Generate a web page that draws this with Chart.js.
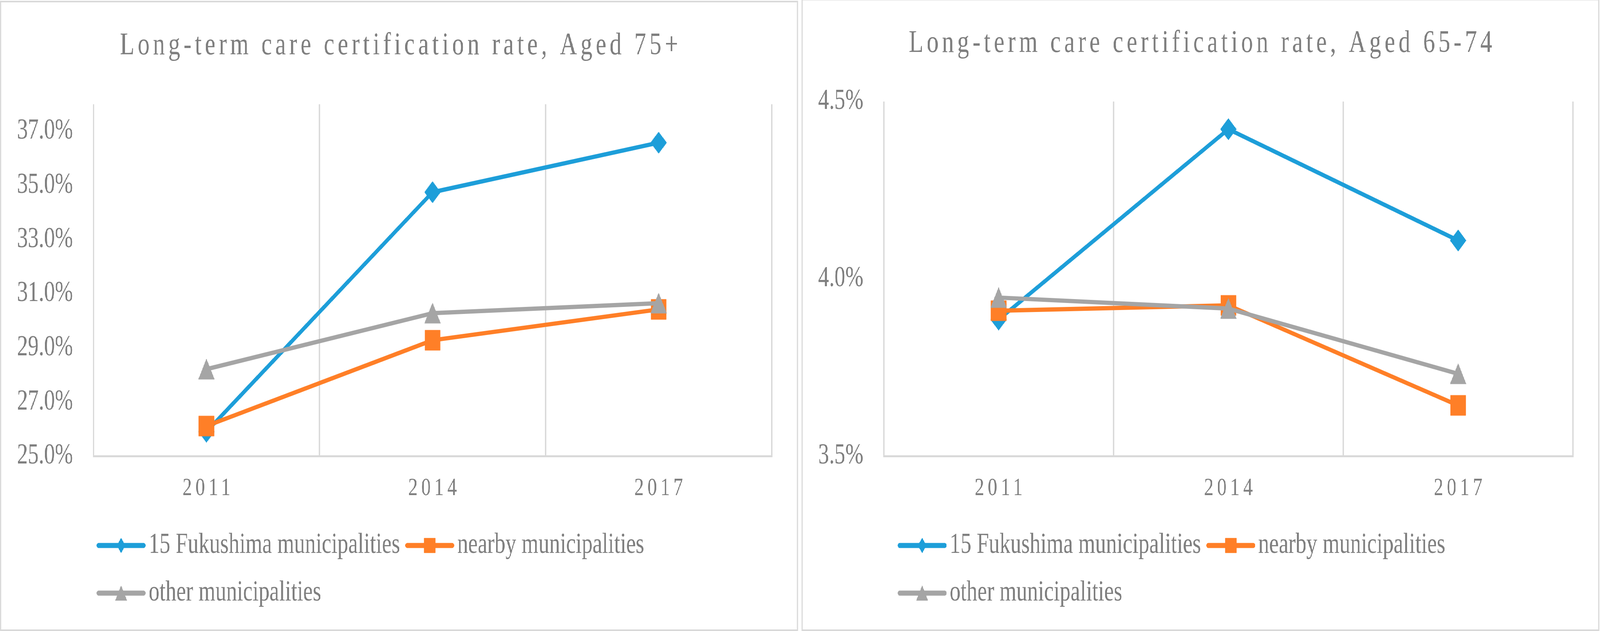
<!DOCTYPE html>
<html>
<head>
<meta charset="utf-8">
<script src="https://cdn.jsdelivr.net/npm/chart.js@4.4.0/dist/chart.umd.min.js"></script>
<style>
html,body{margin:0;padding:0;background:#fff;overflow:hidden;}
#page{position:absolute;left:0;top:0;width:5397px;height:1616px;transform-origin:0 0;background:#fff;}
.box{position:absolute;box-sizing:border-box;border:4px solid #d9d9d9;background:#fff;}
#boxA{left:0;top:2px;width:2692px;height:1614px;}
#boxB{left:2704px;top:-3px;width:2691px;height:1619px;}
#wrapA{position:relative;width:2684px;height:1606px;}
#wrapB{position:relative;width:2683px;height:1611px;}
canvas{display:block;}
</style>
</head>
<body>
<div id="page">
<div class="box" id="boxA"><div id="wrapA"><canvas id="c1"></canvas></div></div>
<div class="box" id="boxB"><div id="wrapB"><canvas id="c2"></canvas></div></div>
</div>
<script>
// ---------- data ----------
const categories = ['2011', '2014', '2017'];
const seriesNames = ['15 Fukushima municipalities', 'nearby municipalities', 'other municipalities'];

const title75 = 'Long-term care certification rate, Aged 75+';
const fukushima75 = [25.9, 34.75, 36.58];
const nearby75 = [26.11, 29.28, 30.42];
const other75 = [28.21, 30.28, 30.65];
const yTicks75 = [25, 27, 29, 31, 33, 35, 37];
const yRange75 = [25, 38];

const title6574 = 'Long-term care certification rate, Aged 65-74';
const fukushima6574 = [3.885, 4.422, 4.108];
const nearby6574 = [3.910, 3.925, 3.643];
const other6574 = [3.947, 3.916, 3.732];
const yTicks6574 = [3.5, 4.0, 4.5];
const yRange6574 = [3.5, 4.5];

// ---------- fit the 5397x1616 design into the actual window ----------
(function fitPage() {
  const sx = (window.innerWidth || 5397) / 5397;
  const sy = (window.innerHeight || 1616) / 1616;
  document.getElementById('page').style.transform = 'scale(' + sx + ',' + sy + ')';
})();

// ---------- styles ----------
const FONT = "'Liberation Serif', serif";
const TEXT = '#7f7f7f';
const GRID = '#d9d9d9';
const colors = ['#1d9ed9', '#ff7f27', '#a5a5a5'];
const shapes = ['diamond', 'square', 'triangle'];

function makeCanvas(w, h) { const c = document.createElement('canvas'); c.width = w; c.height = h; return c; }
function drawShape(ctx, shape, cx, cy, w, h, color) {
  ctx.fillStyle = color; ctx.strokeStyle = color; ctx.lineJoin = 'round'; ctx.lineWidth = 1.5;
  ctx.beginPath();
  if (shape === 'diamond') {
    ctx.moveTo(cx, cy - h / 2); ctx.lineTo(cx + w / 2, cy); ctx.lineTo(cx, cy + h / 2); ctx.lineTo(cx - w / 2, cy);
  } else if (shape === 'square') {
    ctx.rect(cx - w / 2, cy - h / 2, w, h);
  } else {
    ctx.moveTo(cx, cy - h / 2); ctx.lineTo(cx + w / 2, cy + h / 2); ctx.lineTo(cx - w / 2, cy + h / 2);
  }
  ctx.closePath(); ctx.fill(); ctx.stroke();
}
function markerImage(shape, w, h, color) {
  const c = makeCanvas(w + 4, h + 4);
  drawShape(c.getContext('2d'), shape, (w + 4) / 2, (h + 4) / 2, w, h, color);
  return c;
}
function legendIcon(shape, w, h, color) {
  const c = makeCanvas(170, 44);
  const x = c.getContext('2d');
  x.strokeStyle = color; x.lineWidth = 13; x.lineCap = 'round';
  x.beginPath(); x.moveTo(6.5, 22); x.lineTo(158.5, 22); x.stroke();
  drawShape(x, shape, 82.5, 22, w, h, color);
  return c;
}
const markerSizes = [[53, 54], [51, 51], [53, 51]];
const legendSizes = [[27, 37], [37, 37], [38, 37]];
const markers = shapes.map((s, i) => markerImage(s, markerSizes[i][0], markerSizes[i][1], colors[i]));
const icons = shapes.map((s, i) => legendIcon(s, legendSizes[i][0], legendSizes[i][1], colors[i]));

// letter spacing for title (80px) and category labels (64px)
function installSpacing(ctx) {
  const orig = CanvasRenderingContext2D.prototype.fillText;
  ctx.fillText = function (text, x, y, maxWidth) {
    const f = this.font;
    let s = 0;
    if (/\b80px/.test(f)) s = 11.5;
    else if (/\b64px/.test(f)) s = 12;
    if ('letterSpacing' in this) {
      this.letterSpacing = s + 'px';
      if (s && this.textAlign === 'center') x += s / 2;
    }
    return maxWidth === undefined ? orig.call(this, text, x, y) : orig.call(this, text, x, y, maxWidth);
  };
}

const placeBlocks = {
  id: 'placeBlocks',
  afterLayout(chart, args, opts) {
    const t = chart.titleBlock;
    if (t) { t.left = 0; t.right = chart.width; t.width = chart.width; }
    const l = chart.legend;
    if (l && opts.legendLeft !== undefined) { l.left = opts.legendLeft; }
  }
};

function makeDatasets(values) {
  return values.map((v, i) => ({
    label: seriesNames[i],
    data: v,
    borderColor: colors[i],
    backgroundColor: colors[i],
    borderWidth: 11,
    borderJoinStyle: 'round',
    borderCapStyle: 'round',
    tension: 0,
    pointStyle: markers[i],
    pointRadius: 27,
    pointHoverRadius: 27,
    order: 2 - i,
    clip: false
  }));
}

function makeOptions(cfg) {
  return {
    responsive: true,
    maintainAspectRatio: false,
    animation: false,
    events: [],
    layout: { padding: { left: 0, top: 0, right: 85, bottom: 46.5 } },
    plugins: {
      title: {
        display: true, text: cfg.title, color: TEXT,
        font: { family: FONT, size: 80, weight: 'normal', lineHeight: 1.2 },
        padding: { top: cfg.titleTop, bottom: cfg.titleBottom }
      },
      legend: {
        position: 'bottom', align: 'start',
        labels: {
          usePointStyle: true, pointStyleWidth: 108, padding: 49, color: TEXT,
          font: { family: FONT, size: 73 },
          generateLabels: (chart) => chart.data.datasets.map((ds, i) => ({
            text: ds.label, fillStyle: ds.borderColor, strokeStyle: ds.borderColor,
            lineWidth: 0, hidden: false, datasetIndex: i, pointStyle: icons[i], fontColor: TEXT
          }))
        }
      },
      tooltip: { enabled: false },
      placeBlocks: { legendLeft: cfg.legendLeft }
    },
    scales: {
      x: {
        type: 'category', offset: true,
        grid: { display: true, offset: true, color: GRID, lineWidth: 4.5, drawTicks: false },
        border: { display: true, color: GRID, width: 5 },
        ticks: { color: TEXT, font: { family: FONT, size: 64 }, padding: 45, maxRotation: 0 },
        afterFit: (s) => { s.height = 143.5; }
      },
      y: {
        min: cfg.range[0], max: cfg.range[1],
        grid: { display: false, drawTicks: false },
        border: { display: false },
        ticks: { color: TEXT, font: { family: FONT, size: 73 }, padding: 69, callback: (v) => Number(v).toFixed(1) + '%' },
        afterBuildTicks: (a) => { a.ticks = cfg.ticks.map((v) => ({ value: v })); },
        afterFit: (s) => { s.width = cfg.yWidth; }
      }
    }
  };
}

const c1 = document.getElementById('c1');
installSpacing(c1.getContext('2d'));
new Chart(c1, {
  type: 'line',
  data: { labels: categories, datasets: makeDatasets([fukushima75, nearby75, other75]) },
  options: makeOptions({ title: title75, titleTop: 64, titleBottom: 101, legendLeft: 304, yWidth: 311, ticks: yTicks75, range: yRange75 }),
  plugins: [placeBlocks]
});

const c2 = document.getElementById('c2');
installSpacing(c2.getContext('2d'));
new Chart(c2, {
  type: 'line',
  data: { labels: categories, datasets: makeDatasets([fukushima6574, nearby6574, other6574]) },
  options: makeOptions({ title: title6574, titleTop: 63, titleBottom: 100, legendLeft: 302, yWidth: 273, ticks: yTicks6574, range: yRange6574 }),
  plugins: [placeBlocks]
});
</script>
</body>
</html>
